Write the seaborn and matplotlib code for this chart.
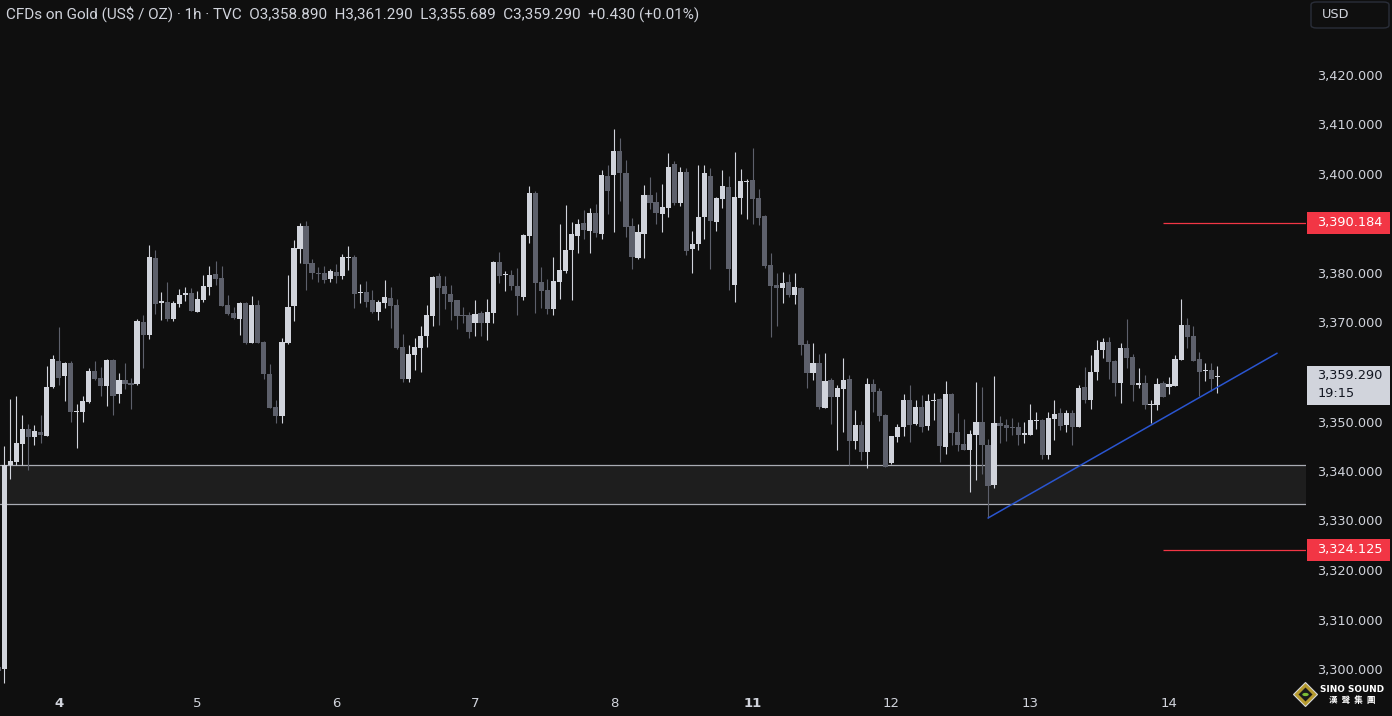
import numpy as np
import pandas as pd
import matplotlib
matplotlib.use("Agg")
import matplotlib.pyplot as plt
import matplotlib.transforms as mtransforms
from matplotlib.patches import Rectangle, Polygon, Circle, FancyBboxPatch
import seaborn as sns

# ---------------- data (hourly candles) ----------------
opens = [3300.5, 3300.1, 3341.2, 3341.8, 3345.5, 3348.5, 3346.9, 3347.9, 3347.1, 3357.0,
         3362.2, 3359.1, 3361.8, 3352.0, 3351.9, 3353.9, 3360.2, 3358.8, 3357.2, 3362.4,
         3355.6, 3358.4, 3357.8, 3357.6, 3370.1, 3367.5, 3383.0, 3373.9, 3374.1, 3370.7,
         3373.7, 3375.6, 3376.0, 3372.1, 3374.5, 3377.2, 3379.8, 3379.0, 3373.5, 3371.9,
         3370.7, 3373.9, 3365.9, 3373.5, 3366.1, 3359.6, 3352.9, 3351.1, 3365.8, 3373.3,
         3384.9, 3389.5, 3382.0, 3380.1, 3380.0, 3378.8, 3380.2, 3379.4, 3383.0, 3383.2,
         3375.9, 3376.2, 3374.5, 3372.1, 3373.9, 3375.0, 3373.5, 3365.1, 3358.6, 3363.4,
         3364.8, 3367.3, 3371.3, 3379.4, 3377.4, 3375.8, 3374.5, 3371.6, 3371.5, 3369.8,
         3371.9, 3369.8, 3372.0, 3382.2, 3379.6, 3379.6, 3377.4, 3375.2, 3387.5, 3396.2,
         3378.2, 3376.6, 3372.7, 3378.1, 3380.4, 3384.6, 3387.5, 3390.1, 3388.5, 3392.1,
         3387.9, 3399.6, 3399.8, 3404.6, 3400.2, 3389.5, 3383.0, 3387.9, 3395.8, 3394.3,
         3391.9, 3393.1, 3402.0, 3394.1, 3400.4, 3384.8, 3385.9, 3391.3, 3399.6, 3390.3,
         3394.9, 3397.4, 3377.6, 3395.2, 3398.4, 3398.8, 3395.2, 3391.5, 3381.6, 3377.6,
         3377.0, 3378.2, 3375.6, 3377.0, 3365.7, 3359.8, 3361.8, 3352.7, 3358.4, 3354.9,
         3356.6, 3358.6, 3346.1, 3349.3, 3343.8, 3357.6, 3356.2, 3351.3, 3341.7, 3346.9,
         3348.8, 3354.3, 3349.5, 3352.9, 3349.1, 3354.1, 3354.5, 3344.8, 3355.6, 3347.9,
         3345.5, 3344.2, 3347.3, 3349.9, 3345.3, 3337.2, 3349.7, 3349.3, 3348.9, 3348.9,
         3347.3, 3347.3, 3350.1, 3350.3, 3343.2, 3350.5, 3351.7, 3349.3, 3351.7, 3348.9,
         3357.0, 3354.3, 3360.0, 3364.4, 3366.1, 3362.2, 3357.8, 3364.8, 3363.0, 3357.4,
         3357.8, 3353.3, 3353.3, 3357.8, 3357.0, 3357.2, 3362.4, 3369.5, 3367.3, 3362.6,
         3360.2, 3360.4, 3358.89]
highs = [3300.6, 3345.1, 3354.5, 3355.2, 3351.3, 3349.5, 3349.3, 3351.3, 3361.2, 3363.4,
         3369.1, 3362.0, 3362.2, 3353.5, 3355.2, 3360.8, 3362.2, 3361.0, 3362.6, 3362.6,
         3359.8, 3361.8, 3358.8, 3370.7, 3371.5, 3385.7, 3384.6, 3376.2, 3378.2, 3374.3,
         3376.8, 3377.2, 3377.0, 3376.4, 3379.6, 3381.4, 3382.4, 3381.4, 3375.6, 3373.1,
         3374.1, 3374.1, 3375.4, 3374.5, 3366.3, 3361.6, 3354.3, 3366.9, 3379.6, 3386.7,
         3390.1, 3390.5, 3382.8, 3381.2, 3381.4, 3380.8, 3381.8, 3383.8, 3385.5, 3383.6,
         3377.8, 3378.4, 3376.6, 3374.5, 3378.6, 3377.2, 3374.7, 3367.7, 3365.5, 3366.9,
         3369.3, 3373.5, 3379.4, 3380.0, 3379.4, 3377.6, 3374.5, 3373.1, 3372.1, 3374.5,
         3372.3, 3374.7, 3382.4, 3384.2, 3380.5, 3380.7, 3381.1, 3387.9, 3397.6, 3396.6,
         3381.2, 3378.8, 3383.2, 3389.9, 3393.7, 3390.3, 3390.9, 3392.7, 3393.1, 3393.9,
         3400.8, 3401.8, 3409.1, 3407.3, 3402.8, 3391.1, 3389.9, 3397.8, 3399.4, 3396.4,
         3398.0, 3404.2, 3402.6, 3401.4, 3401.2, 3388.5, 3401.8, 3401.8, 3401.2, 3395.4,
         3400.8, 3399.6, 3404.4, 3401.0, 3399.0, 3405.3, 3397.0, 3391.7, 3384.0, 3380.0,
         3380.2, 3379.8, 3380.0, 3377.2, 3366.5, 3365.9, 3363.6, 3363.8, 3358.8, 3357.4,
         3362.8, 3359.4, 3352.3, 3350.1, 3358.8, 3358.6, 3356.8, 3351.5, 3347.1, 3349.5,
         3355.6, 3357.4, 3354.3, 3355.4, 3355.6, 3355.8, 3354.7, 3358.2, 3355.8, 3351.7,
         3350.5, 3348.3, 3358.0, 3357.0, 3346.5, 3359.2, 3351.1, 3350.5, 3350.7, 3349.9,
         3349.9, 3353.5, 3351.9, 3350.5, 3351.9, 3354.3, 3352.7, 3352.3, 3352.3, 3357.4,
         3361.0, 3363.4, 3366.5, 3366.9, 3367.1, 3362.4, 3365.9, 3370.7, 3363.6, 3360.8,
         3359.4, 3354.3, 3358.8, 3358.2, 3359.0, 3363.4, 3374.7, 3370.9, 3369.3, 3364.0,
         3361.8, 3361.8, 3361.29]
lows = [3297.8, 3297.2, 3338.4, 3341.2, 3341.2, 3340.2, 3345.3, 3345.7, 3347.0, 3356.8,
        3357.4, 3354.2, 3350.0, 3344.7, 3350.0, 3353.8, 3358.4, 3355.2, 3353.2, 3351.4,
        3353.8, 3356.6, 3352.6, 3357.4, 3360.9, 3366.7, 3371.7, 3370.5, 3370.3, 3370.3,
        3373.1, 3374.3, 3372.3, 3372.1, 3374.1, 3375.6, 3377.6, 3373.3, 3371.6, 3370.7,
        3367.5, 3365.6, 3365.9, 3365.9, 3358.6, 3352.7, 3349.6, 3349.6, 3365.7, 3370.3,
        3382.0, 3376.6, 3378.8, 3378.2, 3378.0, 3378.2, 3378.0, 3378.8, 3380.6, 3372.9,
        3373.9, 3373.1, 3371.9, 3370.5, 3372.9, 3368.9, 3364.6, 3358.0, 3358.0, 3360.4,
        3360.0, 3365.1, 3369.3, 3369.5, 3372.7, 3370.5, 3368.7, 3370.0, 3366.9, 3367.3,
        3367.3, 3366.5, 3369.9, 3378.0, 3376.4, 3376.6, 3371.6, 3374.5, 3386.1, 3372.0,
        3373.0, 3371.7, 3371.6, 3374.8, 3379.9, 3374.5, 3384.1, 3386.9, 3384.0, 3387.3,
        3386.9, 3391.9, 3388.3, 3394.5, 3387.3, 3380.8, 3382.8, 3383.0, 3392.9, 3390.0,
        3388.3, 3391.3, 3393.7, 3393.5, 3383.6, 3380.0, 3384.6, 3386.9, 3380.8, 3388.5,
        3393.1, 3376.6, 3374.1, 3391.9, 3390.9, 3389.9, 3389.7, 3381.0, 3367.1, 3369.3,
        3373.9, 3375.2, 3373.7, 3363.4, 3356.8, 3358.4, 3352.5, 3352.7, 3349.5, 3344.2,
        3347.9, 3341.2, 3344.4, 3342.2, 3340.6, 3351.9, 3350.2, 3340.9, 3341.5, 3345.9,
        3347.1, 3345.9, 3349.3, 3347.9, 3348.3, 3350.3, 3341.8, 3343.4, 3345.3, 3344.0,
        3344.2, 3335.8, 3338.2, 3339.4, 3330.5, 3336.6, 3345.7, 3346.1, 3347.3, 3345.3,
        3345.7, 3347.3, 3348.5, 3342.4, 3342.4, 3346.3, 3348.3, 3347.9, 3345.3, 3348.9,
        3353.7, 3352.5, 3358.4, 3362.8, 3358.6, 3355.2, 3353.7, 3360.8, 3354.1, 3356.8,
        3352.5, 3349.7, 3352.3, 3354.9, 3355.6, 3357.2, 3362.4, 3364.8, 3362.2, 3355.2,
        3358.2, 3356.2, 3355.689]
closes = [3299.6, 3341.2, 3342.0, 3345.7, 3348.5, 3346.9, 3348.1, 3347.3, 3357.0, 3362.6,
          3358.8, 3361.8, 3352.0, 3352.2, 3354.1, 3360.2, 3358.6, 3357.2, 3362.4, 3355.2,
          3358.4, 3357.6, 3357.4, 3370.3, 3367.5, 3383.2, 3373.7, 3374.3, 3370.7, 3373.9,
          3375.6, 3376.0, 3372.3, 3374.7, 3377.4, 3379.6, 3378.8, 3373.3, 3371.7, 3370.9,
          3373.9, 3365.8, 3373.5, 3365.9, 3359.5, 3352.8, 3351.2, 3366.1, 3373.1, 3385.1,
          3389.5, 3381.8, 3380.0, 3379.8, 3378.6, 3380.4, 3379.4, 3383.2, 3383.2, 3375.8,
          3376.2, 3374.1, 3372.1, 3374.1, 3375.2, 3373.3, 3364.8, 3358.6, 3363.6, 3365.1,
          3367.3, 3371.5, 3379.2, 3377.0, 3375.8, 3374.1, 3371.4, 3371.3, 3368.1, 3371.7,
          3369.9, 3372.1, 3382.2, 3379.3, 3379.8, 3377.4, 3375.4, 3387.7, 3396.2, 3378.0,
          3376.4, 3372.8, 3378.4, 3380.6, 3384.6, 3387.9, 3389.9, 3388.7, 3392.1, 3388.1,
          3399.8, 3396.6, 3404.6, 3400.2, 3389.3, 3383.2, 3388.3, 3395.8, 3394.1, 3392.1,
          3393.3, 3401.4, 3394.1, 3400.4, 3384.4, 3385.9, 3391.3, 3400.2, 3390.5, 3395.2,
          3397.6, 3380.8, 3395.4, 3398.6, 3398.6, 3394.9, 3391.1, 3381.4, 3377.4, 3377.0,
          3378.0, 3375.6, 3377.2, 3365.5, 3359.8, 3361.8, 3352.9, 3358.2, 3354.9, 3356.8,
          3358.4, 3346.1, 3349.3, 3343.8, 3357.6, 3356.0, 3351.2, 3340.9, 3347.1, 3348.9,
          3354.3, 3349.3, 3352.9, 3348.9, 3354.1, 3354.3, 3345.1, 3355.6, 3347.7, 3345.3,
          3344.2, 3347.5, 3349.9, 3345.3, 3337.0, 3349.7, 3349.1, 3348.7, 3348.7, 3347.3,
          3347.7, 3350.3, 3350.3, 3343.2, 3350.7, 3351.5, 3349.1, 3351.7, 3348.9, 3356.8,
          3354.3, 3360.0, 3364.4, 3366.1, 3362.0, 3357.8, 3364.8, 3362.8, 3357.4, 3357.8,
          3353.3, 3353.5, 3357.6, 3354.9, 3357.6, 3362.6, 3369.5, 3367.1, 3362.2, 3360.0,
          3360.4, 3358.6, 3359.29]

day_labels = ["4", "5", "6", "7", "8", "11", "12", "13", "14"]
day_bar_index = [10, 33, 56, 79, 102, 125, 148, 171, 194]
bold_days = ["4", "11"]
price_ticks = [3300, 3310, 3320, 3330, 3340, 3350, 3360, 3370, 3380, 3390, 3400, 3410, 3420]

zone_low, zone_high = 3333.33, 3341.21
level_prices = [3390.184, 3324.125]
level_start_index = 193
trend_x = [164, 211.9]
trend_y = [3330.5, 3363.8]
last_price = 3359.29
countdown = "19:15"
header = ("CFDs on Gold (US$ / OZ) · 1h · TVC  O3,358.890  H3,361.290  "
          "L3,355.689  C3,359.290  +0.430 (+0.01%)")

# ---------------- style ----------------
BG = "#0f0f0f"
UP = "#d1d4dc"
DOWN = "#5d606b"
TXT = "#d1d4dc"

sns.set_theme(style="dark", rc={"axes.facecolor": BG, "figure.facecolor": BG,
                               "savefig.facecolor": BG, "axes.grid": False})
plt.rcParams["font.family"] = ["DejaVu Sans"]

W, H = 1392, 716
fig = plt.figure(figsize=(W / 100, H / 100), dpi=100)
plot_right, plot_bottom = 1306, 688
ax = fig.add_axes([0, (H - plot_bottom) / H, plot_right / W, plot_bottom / H])
ax.set_facecolor(BG)

df = pd.DataFrame({"open": opens, "high": highs, "low": lows, "close": closes})
df["i"] = np.arange(len(df))
df["up"] = df["close"] >= df["open"]
colors = np.where(df["up"], UP, DOWN)

# scale: 4.95 px per $ ; 3420 at y=75 px
px_per = 4.95
y_top = 3420 + 75 / px_per
y_bot = 3420 - (plot_bottom - 75) / px_per
spacing = 6.035
x_first = 4.3
x_left = (0 - x_first) / spacing + 1
x_right = (plot_right - x_first) / spacing + 1

# zone
ax.axhspan(zone_low, zone_high, facecolor="#1e1e1e", edgecolor="none", zorder=0)
for v in (zone_low, zone_high):
    ax.axhline(v, color="#a9acb4", lw=0.9, zorder=1)

# candles
body_lo = np.minimum(df["open"], df["close"])
body_h = np.maximum(np.abs(df["close"] - df["open"]), 1.0 / px_per)
ax.vlines(df["i"], df["low"], df["high"], colors=colors, lw=0.8, zorder=2)
ax.bar(df["i"], body_h, bottom=body_lo, width=0.86, color=colors, linewidth=0, zorder=3)

# level lines
ax.hlines(level_prices, level_start_index, x_right, colors="#f23645", lw=0.9, zorder=2)
# trend line
ax.plot(trend_x, trend_y, color="#2a55d0", lw=1.1, zorder=4)

ax.set_xlim(x_left, x_right)
ax.set_ylim(y_bot, y_top)
for s in ax.spines.values():
    s.set_visible(False)

ax.yaxis.tick_right()
ax.set_yticks(price_ticks)
ax.set_yticklabels([f"{v:,.3f}" for v in price_ticks])
ax.tick_params(axis="y", length=0, pad=8, labelsize=9.3, labelcolor=TXT)
ax.set_xticks(day_bar_index)
ax.set_xticklabels(day_labels)
ax.tick_params(axis="x", length=0, pad=6.5, labelsize=9.5, labelcolor=TXT)
for lab in ax.get_xticklabels():
    if lab.get_text() in bold_days:
        lab.set_fontweight("bold")

# price axis boxes
blend = mtransforms.blended_transform_factory(fig.transFigure, ax.transData)
box_h = 22 / px_per
for p in level_prices:
    ax.add_patch(Rectangle((1307 / W, p - box_h / 2), 83 / W, box_h, transform=blend,
                           facecolor="#f23645", edgecolor="none", clip_on=False, zorder=5))
    ax.text(1317.5 / W, p, f"{p:,.3f}", transform=blend, ha="left", va="center",
            color="white", fontsize=9.3, clip_on=False, zorder=6)

ax.add_patch(Rectangle((1307 / W, last_price - 29 / px_per), 83 / W, 39 / px_per,
                       transform=blend, facecolor="#d1d4dc", edgecolor="none",
                       clip_on=False, zorder=5))
ax.text(1317.5 / W, last_price, f"{last_price:,.3f}", transform=blend, ha="left",
        va="center", color="#131722", fontsize=9.3, clip_on=False, zorder=6)
ax.text(1317.5 / W, last_price - 17.5 / px_per, countdown, transform=blend, ha="left",
        va="center", color="#131722", fontsize=9.3, clip_on=False, zorder=6)

# USD box
fig.patches.append(FancyBboxPatch((1311 / W, 1 - 28 / H), 78 / W, 26 / H,
                                  boxstyle="round,pad=0,rounding_size=0.004",
                                  transform=fig.transFigure, facecolor=BG,
                                  edgecolor="#2a2e39", lw=1))
fig.text(1322 / W, 1 - 15 / H, "USD", ha="left", va="center", color=TXT, fontsize=9.3)

# header text, scaled to reference width
ht = fig.text(6 / W, 1 - 14 / H, header, ha="left", va="center", color=TXT,
              fontsize=10, family=["Roboto", "DejaVu Sans"])
fig.canvas.draw()
wext = ht.get_window_extent().width
ht.set_fontsize(10 * 691 / wext)

# logo
cx, cy = 1305.5, 694.5
def fxy(x, y):
    return (x / W, 1 - y / H)
fig.patches.append(Polygon([fxy(cx, cy - 12), fxy(cx + 12, cy), fxy(cx, cy + 12), fxy(cx - 12, cy)],
                           closed=True, transform=fig.transFigure, facecolor="#b59a2e",
                           edgecolor="#d8d8d8", lw=0.8))
fig.patches.append(Polygon([fxy(cx, cy - 7), fxy(cx + 7, cy), fxy(cx, cy + 7), fxy(cx - 7, cy)],
                           closed=True, transform=fig.transFigure, facecolor="#1a1a1a",
                           edgecolor="none"))
fig.patches.append(Circle(fxy(cx, cy), 3.2 / W, transform=fig.transFigure,
                          facecolor="#7cbc35", edgecolor="none"))
fig.text(1352.5 / W, 1 - 689 / H, "SINO SOUND", ha="center", va="center",
         color="white", fontsize=6.4, fontweight="bold")
fig.text(1352.5 / W, 1 - 700 / H, "漢  聲  集  團", ha="center", va="center",
         color="white", fontsize=6.2, fontweight="bold",
         family=["Noto Sans CJK TC", "DejaVu Sans"])

fig.savefig("out.png", dpi=100, facecolor=BG)
